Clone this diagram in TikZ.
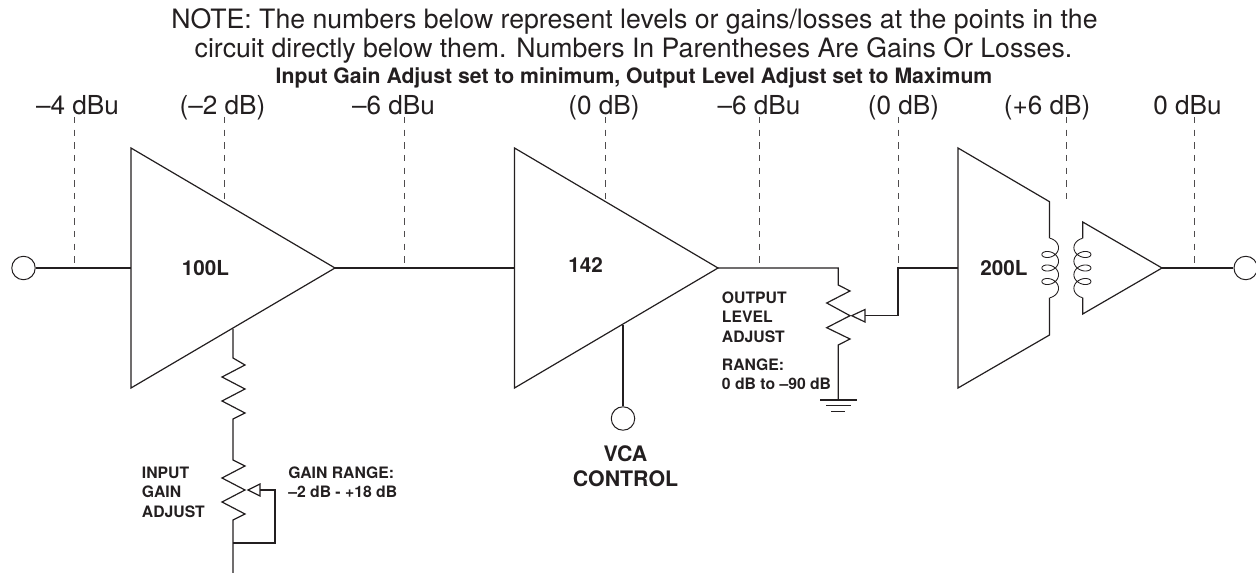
\documentclass[tikz,border=0pt]{standalone}
\usepackage{fontspec}
\setmainfont{TeX Gyre Heros}
\definecolor{ink}{HTML}{231F20}
\tikzset{
  wire/.style={draw=ink,line width=0.9pt,line join=miter},
  thin wire/.style={draw=ink,line width=0.65pt},
  probe/.style={draw=ink!80,line width=0.5pt,dash pattern=on 4.75pt off 4.75pt},
  port/.style={circle,draw=ink,line width=0.75pt,minimum size=17.6pt,inner sep=0pt,fill=white},
  note/.style={font=\fontsize{20}{24}\selectfont,text=ink,anchor=base,inner sep=0pt},
  head/.style={font=\bfseries\fontsize{15.9}{19}\selectfont,text=ink,anchor=base,inner sep=0pt},
  lvl/.style={font=\fontsize{19.6}{23}\selectfont,text=ink,anchor=base,inner sep=0pt},
  small/.style={font=\bfseries\fontsize{11.8}{14.6}\selectfont,text=ink,anchor=north west,align=left,inner sep=0pt},
  amp/.style={font=\bfseries\fontsize{15.5}{18}\selectfont,text=ink,anchor=base,inner sep=0pt},
}
\begin{document}
\begin{tikzpicture}[x=0.75pt,y=-0.75pt]
\useasboundingbox (0,0) rectangle (1256,573);
% text
\node[note] (n1) at (634.5,29) {NOTE: The numbers below represent levels or gains/losses at the points in the};
\node[note] (n2) at (633.5,58) {circuit directly below them. Numbers In Parentheses Are Gains Or Losses.};
\node[head] (n3) at (634,84) {Input Gain Adjust set to minimum, Output Level Adjust set to Maximum};
\node[lvl] (l1) at (77.5,115) {–4 dBu};
\node[lvl] (l2) at (222.5,115) {(–2 dB)};
\node[lvl] (l3) at (393.5,115) {–6 dBu};
\node[lvl] (l4) at (604,115) {(0 dB)};
\node[lvl] (l5) at (759,115) {–6 dBu};
\node[lvl] (l6) at (903.5,115) {(0 dB)};
\node[lvl] (l7) at (1047,115) {(+6 dB)};
\node[lvl] (l8) at (1187.5,115) {0 dBu};
% ports
\node[port] (in) at (23.5,268) {};
\node[port] (vca) at (623,418.5) {};
\node[port] (out) at (1245.7,268) {};
% key points
\coordinate (a1t) at (131,148); \coordinate (a1b) at (131,388); \coordinate (a1o) at (335,268); \coordinate (a1i) at (131,268);
\coordinate (a2t) at (514.5,148); \coordinate (a2b) at (514.5,388); \coordinate (a2o) at (718,268); \coordinate (a2i) at (514.5,268);
\coordinate (a3t) at (958,148); \coordinate (a3b) at (958,388); \coordinate (a3i) at (958,268);
\coordinate (a4o) at (1162,268);
% probes
\draw[probe] (74.3,117) -- (74.3,265);
\draw[probe] (224.5,117) -- (224.5,200);
\draw[probe] (404,117) -- (404,265);
\draw[probe] (605,117) -- (605,200);
\draw[probe] (759,117) -- (759,265);
\draw[probe] (898,117) -- (898,265);
\draw[probe] (1066,117) -- (1066,199);
\draw[probe] (1194,117) -- (1194,265);
% amps
\draw[wire] (a1t) -- (a1o) -- (a1b) -- cycle;
\draw[wire] (a2t) -- (a2o) -- (a2b) -- cycle;
\draw[wire] (in) -- (a1i);
\draw[wire] (a1o) -- (a2i);
\node[amp] (t100) at (205.5,276) {100L};
\node[amp] (t142) at (585.5,273) {142};
\node[amp] (t200) at (1004,276) {200L};
% VCA
\draw[wire] (623,325) -- (vca);
% input network
\coordinate (g1) at (233,329);
\draw[wire] (g1) -- (233,358) -- (245,365) -- (222,377) -- (245,389) -- (222,401) -- (245,413) -- (233,419)
  -- (233,460) -- (245,466) -- (222,478) -- (245,490) -- (222,502) -- (245,514) -- (233,520) -- (233,573);
\draw[wire] (233,543) -- (275,543) -- (275,490) -- (260,490);
\draw[wire] (260,484) -- (248,490) -- (260,496) -- cycle;
% output level
\draw[wire] (a2o) -- (838.3,268) -- (838.3,285) -- (850,291) -- (826.7,303) -- (850,315.7) -- (826.7,327.7) -- (850,339) -- (838.3,345) -- (838.3,400);
\draw[wire] (820,400) -- (857,400);
\draw[wire] (826,405.7) -- (851,405.7);
\draw[wire] (831,411.7) -- (845,411.7);
\draw[wire] (865,315.7) -- (898,315.7) -- (898,268) -- (a3i);
\draw[wire] (865,309.5) -- (851.7,315.7) -- (865,322) -- cycle;
% output transformer
\draw[wire] (1049.5,238.4) -- (1049.5,201.7) -- (a3t) -- (a3b) -- (1049.5,335) -- (1049.5,297.6);
\draw[thin wire,line join=round] plot[variable=\t,domain=-90:1170,samples=211] ({1050.2+8.3*cos(\t)},{268+2.15*(\t-540)*3.14159/180+6*sin(\t)});
\draw[thin wire,line join=round] plot[variable=\t,domain=-90:1170,samples=211] ({1082.4-8.5*cos(\t)},{268+2.15*(\t-540)*3.14159/180+6*sin(\t)});
\draw[wire] (1082.7,238.4) -- (1082.7,222) -- (a4o) -- (1082.7,314) -- (1082.7,297.6);
\draw[wire] (a4o) -- (out);
% small labels
\node[small] (s1) at (141.7,466.5) {INPUT\\GAIN\\ADJUST};
\node[small] (s2) at (288,466.5) {GAIN RANGE:\\–2 dB - +18 dB};
\node[small] (s3) at (721.7,291.2) {OUTPUT\\LEVEL\\ADJUST};
\node[small] (s4) at (721.7,358.5) {RANGE:\\0 dB to –90 dB};
\node[font=\bfseries\fontsize{16}{18.75}\selectfont,text=ink,align=center,inner sep=0pt,anchor=north] (s5) at (625.5,445.4) {VCA\\CONTROL};
\end{tikzpicture}
\end{document}
